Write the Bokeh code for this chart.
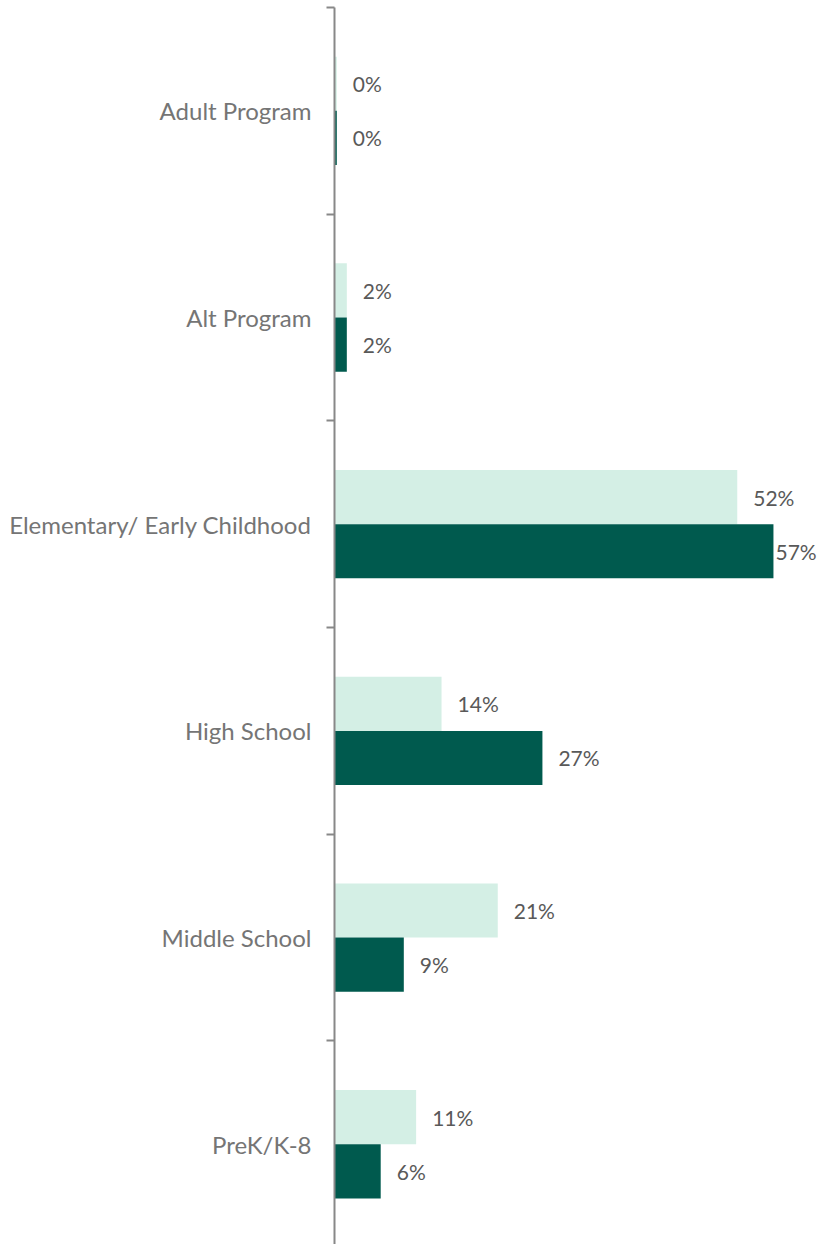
from bokeh.plotting import figure
from bokeh.models import FixedTicker, ColumnDataSource, Range1d
from bokeh.core.properties import value
from bokeh.embed import file_html
from bokeh.resources import INLINE

categories = ["Adult Program", "Alt Program", "Elementary/ Early Childhood",
              "High School", "Middle School", "PreK/K-8"]
light_values = [0.3, 1.6, 52.3, 13.9, 21.2, 10.6]
dark_values = [0.3, 1.6, 57.0, 27.0, 9.0, 6.0]
light_labels = ["0%", "2%", "52%", "14%", "21%", "11%"]
dark_labels = ["0%", "2%", "57%", "27%", "9%", "6%"]

LIGHT = "#d4efe5"
DARK = "#005a4e"
FONT = "Lato"

n = len(categories)
centers = [n - i - 0.5 for i in range(n)]
bar_h = 0.262
light_y = [c + bar_h / 2 for c in centers]
dark_y = [c - bar_h / 2 for c in centers]

light_src = ColumnDataSource(dict(y=light_y, v=light_values, lab=light_labels,
                                  off=[16, 16, 16, 16, 16, 16]))
dark_src = ColumnDataSource(dict(y=dark_y, v=dark_values, lab=dark_labels,
                                 off=[16, 16, 2, 16, 16, 16]))

p = figure(width=818, height=1244, output_backend="svg", toolbar_location=None,
           x_range=Range1d(0, 62.85), y_range=Range1d(0.015, n),
           min_border_left=334, min_border_right=0, min_border_top=7, min_border_bottom=0)
p.outline_line_color = None
p.xgrid.visible = False
p.ygrid.visible = False
p.xaxis.visible = False

p.hbar(y="y", right="v", left=0, height=bar_h, source=light_src,
       fill_color=LIGHT, line_color=None)
p.hbar(y="y", right="v", left=0, height=bar_h, source=dark_src,
       fill_color=DARK, line_color=None)

for src in (light_src, dark_src):
    p.text(x="v", y="y", text="lab", source=src, x_offset="off",
           text_font=value(FONT), text_font_size="21px", text_color="#595959",
           text_baseline="middle", text_align="left")

yax = p.yaxis[0]
yax.ticker = FixedTicker(ticks=centers, minor_ticks=list(range(n + 1)))
yax.major_label_overrides = {c: cat for c, cat in zip(centers, categories)}
yax.major_tick_line_color = None
yax.major_tick_out = 0
yax.major_tick_in = 0
yax.minor_tick_line_color = "#888888"
yax.minor_tick_line_width = 2
yax.minor_tick_out = 8
yax.minor_tick_in = 0
yax.axis_line_color = "#888888"
yax.axis_line_width = 2
yax.major_label_standoff = 15
yax.major_label_text_font = FONT
yax.major_label_text_font_size = "24px"
yax.major_label_text_color = "#757575"

open("out.html", "w").write(file_html(p, INLINE))
